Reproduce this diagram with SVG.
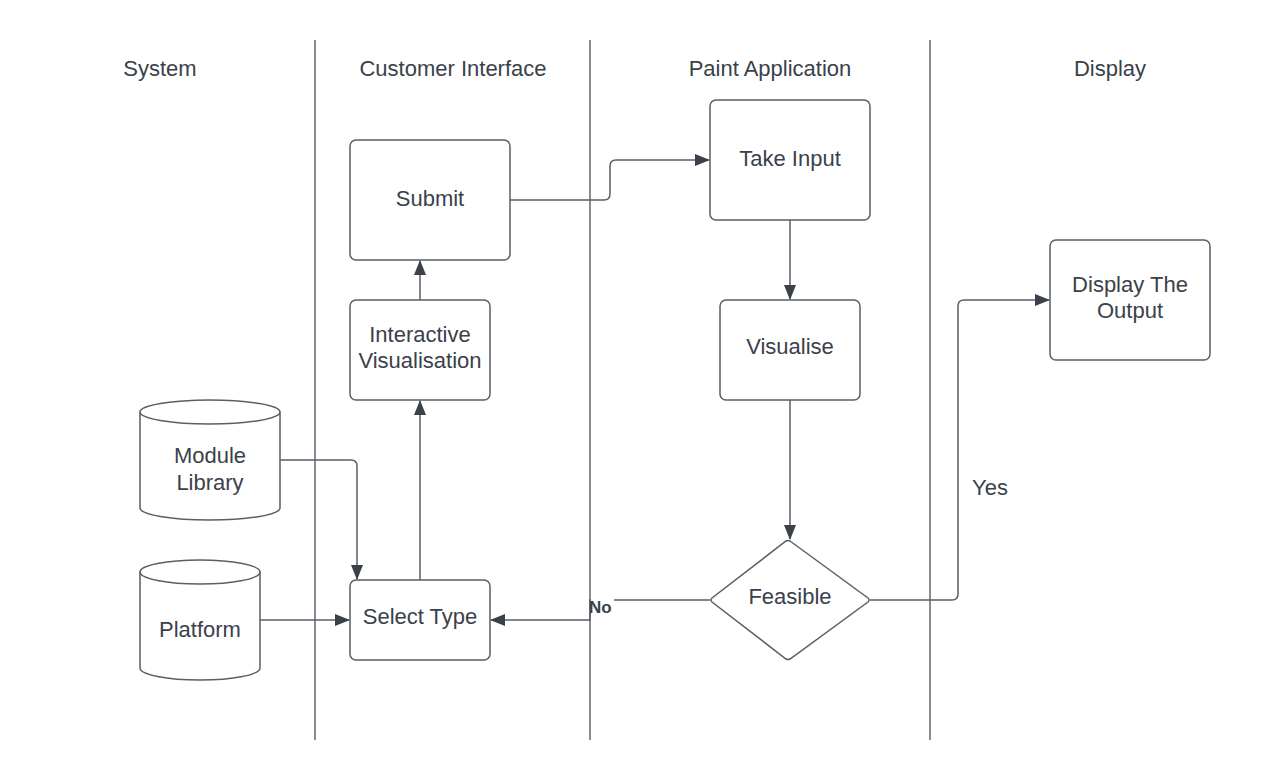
<svg xmlns="http://www.w3.org/2000/svg" width="1270" height="780" viewBox="0 0 1270 780">
<style>
text{font-family:"Liberation Sans",Arial,sans-serif;font-size:22px;fill:#3a414a;text-anchor:middle}
.lane{stroke:#3a414a;stroke-width:1.2;fill:none}
.node{fill:#fff;stroke:#5a5e66;stroke-width:1.5}
.conn{fill:none;stroke:#5a5e66;stroke-width:1.5}
.lbl{font-size:17px;font-weight:bold;text-anchor:start}
</style>
<defs>
<marker id="arr" viewBox="0 0 15 12" refX="14" refY="6" markerWidth="15" markerHeight="12" markerUnits="userSpaceOnUse" orient="auto">
<path d="M0,0 L15,6 L0,12 Z" fill="#3a414a"/>
</marker>
</defs>
<rect width="1270" height="780" fill="#fff"/>
<g id="lanes">
<line class="lane" x1="315" y1="40" x2="315" y2="740"/>
<line class="lane" x1="590" y1="40" x2="590" y2="740"/>
<line class="lane" x1="930" y1="40" x2="930" y2="740"/>
<text x="160" y="76">System</text>
<text x="453" y="76">Customer Interface</text>
<text x="770" y="76">Paint Application</text>
<text x="1110" y="76">Display</text>
</g>
<g id="connectors">
<path class="conn" marker-end="url(#arr)" d="M510,200 H604 Q610,200 610,194 V166 Q610,160 616,160 H709"/>
<path class="conn" marker-end="url(#arr)" d="M420,300 V261"/>
<path class="conn" marker-end="url(#arr)" d="M420,580 V401"/>
<path class="conn" marker-end="url(#arr)" d="M280,460 H351 Q357,460 357,466 V579"/>
<path class="conn" marker-end="url(#arr)" d="M260,620 H349"/>
<path class="conn" marker-end="url(#arr)" d="M790,220 V299"/>
<path class="conn" marker-end="url(#arr)" d="M790,400 V539"/>
<path class="conn" marker-end="url(#arr)" d="M710,600 H590 V620 H491"/>
<path class="conn" marker-end="url(#arr)" d="M870,600 H952 Q958,600 958,594 V306 Q958,300 964,300 H1049"/>
<rect x="591" y="596" width="23" height="21" fill="#fff"/>
<text class="lbl" x="589" y="613">No</text>
<text x="990" y="495">Yes</text>
</g>
<g id="submit">
<rect class="node" x="350" y="140" width="160" height="120" rx="6"/>
<text x="430" y="206">Submit</text>
</g>
<g id="interactive">
<rect class="node" x="350" y="300" width="140" height="100" rx="6"/>
<text x="420" y="342">Interactive</text>
<text x="420" y="368">Visualisation</text>
</g>
<g id="selecttype">
<rect class="node" x="350" y="580" width="140" height="80" rx="6"/>
<text x="420" y="624">Select Type</text>
</g>
<g id="takeinput">
<rect class="node" x="710" y="100" width="160" height="120" rx="6"/>
<text x="790" y="166">Take Input</text>
</g>
<g id="visualise">
<rect class="node" x="720" y="300" width="140" height="100" rx="6"/>
<text x="790" y="354">Visualise</text>
</g>
<g id="feasible">
<path class="node" d="M790,541 L868,598 Q870,600 868,602 L790,659 Q788,660 786,659 L712,602 Q710,600 712,598 L786,541 Q788,540 790,541 Z"/>
<text x="790" y="604">Feasible</text>
</g>
<g id="display">
<rect class="node" x="1050" y="240" width="160" height="120" rx="6"/>
<text x="1130" y="292">Display The</text>
<text x="1130" y="318">Output</text>
</g>
<g id="modulelibrary">
<path class="node" d="M140,412 A70,12 0 0 1 280,412 V508 A70,12 0 0 1 140,508 Z"/>
<path class="conn" d="M140,412 A70,12 0 0 0 280,412"/>
<text x="210" y="463">Module</text>
<text x="210" y="490">Library</text>
</g>
<g id="platform">
<path class="node" d="M140,572 A60,12 0 0 1 260,572 V668 A60,12 0 0 1 140,668 Z"/>
<path class="conn" d="M140,572 A60,12 0 0 0 260,572"/>
<text x="200" y="637">Platform</text>
</g>
</svg>
